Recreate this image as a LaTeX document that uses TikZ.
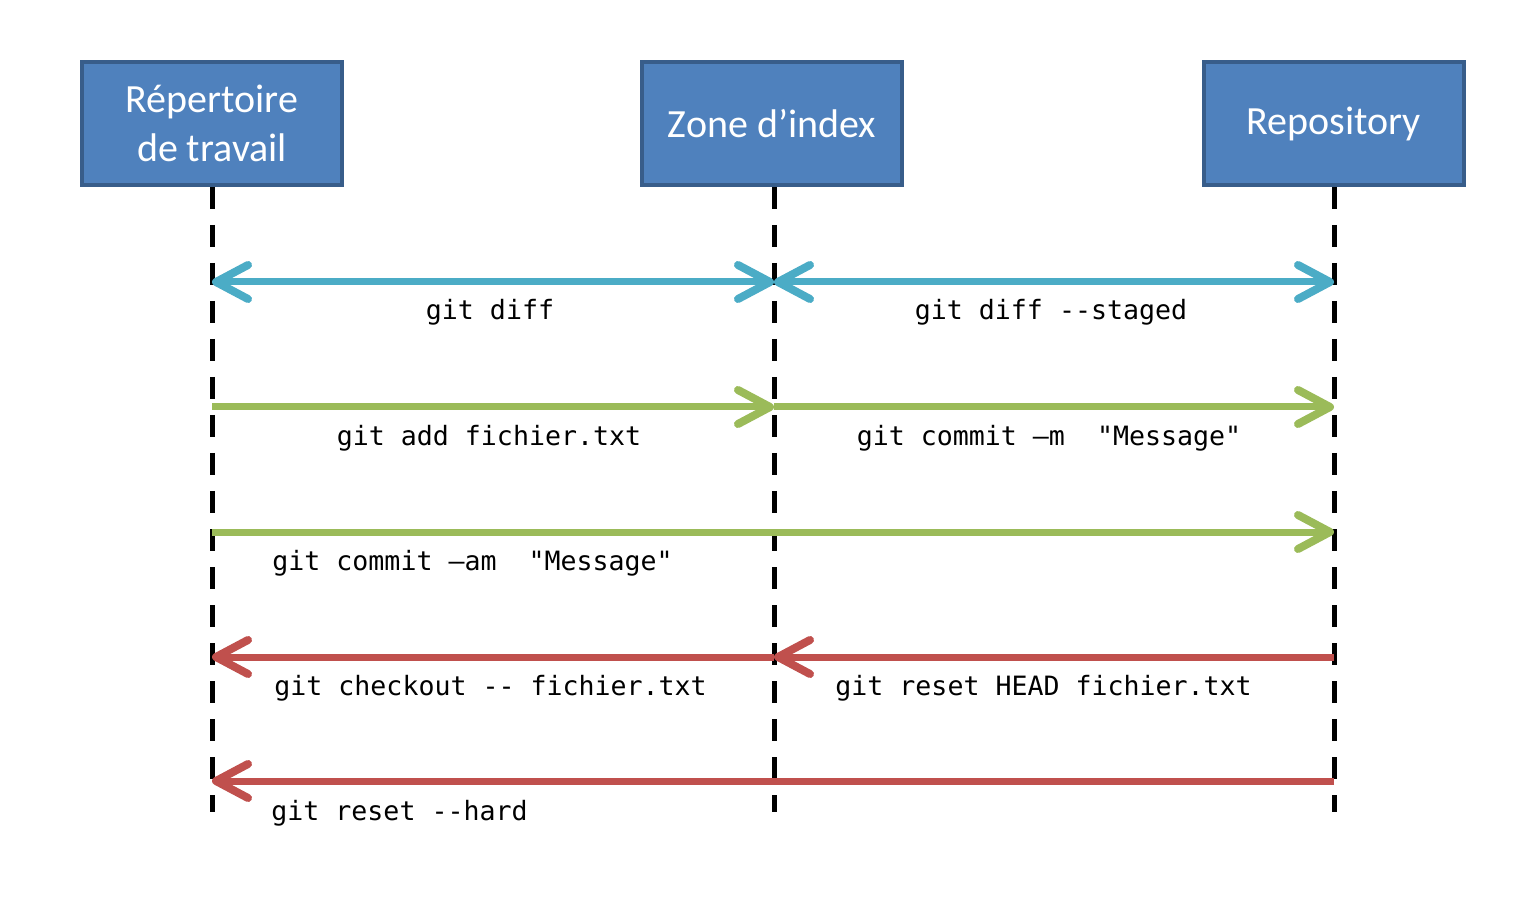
\documentclass[tikz,border=0pt]{standalone}
\usepackage{fontspec}
\setmainfont{Carlito}
\setmonofont{DejaVu Sans Mono}
\usetikzlibrary{arrows.meta}
\definecolor{boxfill}{HTML}{4F81BD}
\definecolor{boxline}{HTML}{385D8A}
\definecolor{cblue}{HTML}{4BACC6}
\definecolor{cgreen}{HTML}{9BBB59}
\definecolor{cred}{HTML}{C0504D}
\tikzset{
  actor/.style={draw=boxline, line width=2pt, fill=boxfill, text=white,
    minimum width=130pt, minimum height=61.5pt, inner sep=0pt, align=center,
    font=\fontsize{20}{24.5}\selectfont},
  lifeline/.style={line width=2.5pt, dash pattern=on 11pt off 8pt},
  chev/.tip={Straight Barb[length=16pt, width=17pt, line width=4pt, round]},
  msg/.style={line width=3.5pt},
  bluemsg/.style={msg, cblue, {chev}-{chev}},
  greenmsg/.style={msg, cgreen, -{chev}},
  redmsg/.style={msg, cred, -{chev}},
  lbl/.style={font=\ttfamily\fontsize{13.3}{16}\selectfont, inner sep=0pt, text=black},
}
\begin{document}
\begin{tikzpicture}[x=0.5pt, y=-0.5pt]
\useasboundingbox (0,0) rectangle (1526,898);
\fill[white] (0,0) rectangle (1526,898);
% actors
\node[actor] (wd) at (212,123.5) {Répertoire\\de travail};
\node[actor] (ix) at (772,123.5) {\raisebox{-1pt}{Zone d’index}};
\node[actor] (rp) at (1334,123.5) {\raisebox{-2pt}{Repository}};
% lifeline ends
\coordinate (wdEnd) at (212,812);
\coordinate (ixEnd) at (774,812);
\coordinate (rpEnd) at (1334,812);
\draw[lifeline] (wd.south -| wdEnd) -- (wdEnd);
\draw[lifeline] (ix.south -| ixEnd) -- (ixEnd);
\draw[lifeline] (rp.south -| rpEnd) -- (rpEnd);
% points on lifelines
\foreach \n/\y in {1/282,2/407,3/532,4/657,5/781}{
  \coordinate (w\n) at (212,\y);
  \coordinate (i\n) at (774,\y);
  \coordinate (r\n) at (1334,\y);
}
% messages
\draw[bluemsg] (w1) -- (i1);
\draw[bluemsg] (i1) -- (r1);
\draw[greenmsg] (w2) -- (i2);
\draw[greenmsg] (i2) -- (r2);
\draw[greenmsg] (w3) -- (r3);
\draw[redmsg] (i4) -- (w4);
\draw[redmsg] (r4) -- (i4);
\draw[redmsg] (r5) -- (w5);
% labels
\node[lbl, anchor=base] (l1) at (490,320) {git diff};
\node[lbl, anchor=base] (l2) at (1051,320) {git diff --staged};
\node[lbl, anchor=base] (l3) at (489,445) {git add fichier.txt};
\node[lbl, anchor=base] (l4) at (1049,445) {git commit –m~~"Message"};
\node[lbl, anchor=base west] (l5) at (272,570) {git commit –am~~"Message"};
\node[lbl, anchor=base west] (l6) at (274,695) {git checkout -- fichier.txt};
\node[lbl, anchor=base west] (l7) at (835,695) {git reset HEAD fichier.txt};
\node[lbl, anchor=base west] (l8) at (271,820) {git reset --hard};
\end{tikzpicture}
\end{document}
